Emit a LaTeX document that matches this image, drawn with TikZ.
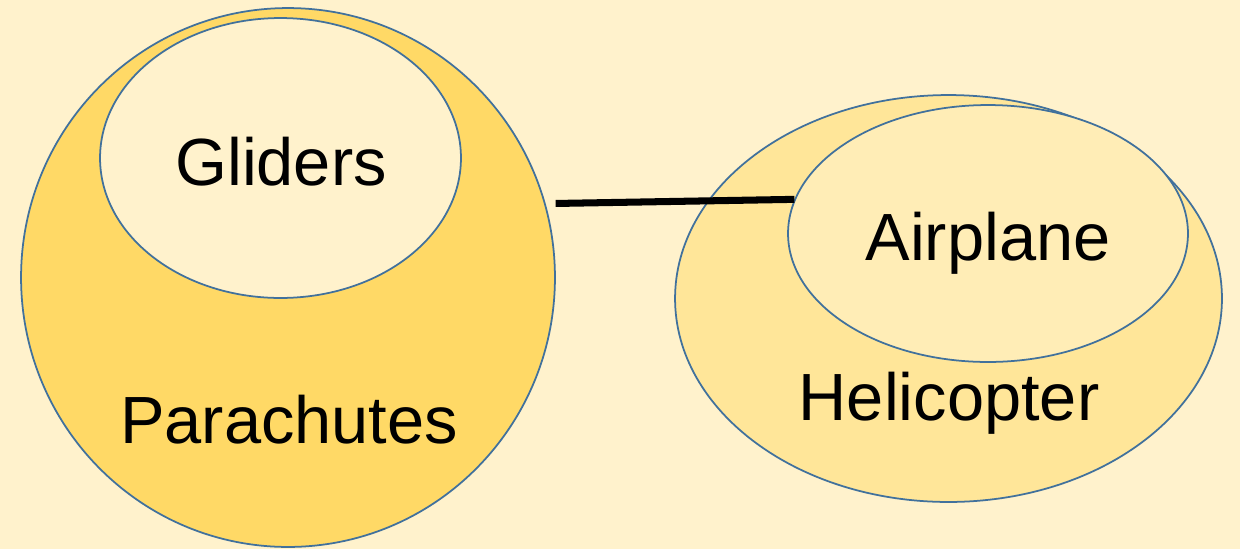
\documentclass[tikz,border=0pt]{standalone}
\usepackage{fontspec}
\setmainfont{Liberation Sans}
\usepackage{tikz}
\usetikzlibrary{shapes.geometric}

\definecolor{bgyellow}{HTML}{FFF2CC}
\definecolor{paradark}{HTML}{FFD966}
\definecolor{helimid}{HTML}{FFE699}
\definecolor{airlight}{HTML}{FFEDB6}
\definecolor{rimblue}{HTML}{41719C}

\tikzset{
  blob/.style={ellipse,draw=rimblue,line width=1pt,inner sep=0pt},
  word/.style={font=\fontsize{38}{44}\selectfont,anchor=base,inner sep=0pt}
}

\begin{document}
\begin{tikzpicture}[x=0.02cm,y=-0.02cm]
\fill[bgyellow] (0,0) rectangle (1240,549);
\useasboundingbox (0,0) rectangle (1240,549);

\node[blob,fill=paradark,minimum width=10.68cm,minimum height=10.78cm](para) at (288,277.5) {};
\node[blob,fill=bgyellow,minimum width=7.22cm,minimum height=5.6cm](glide) at (280.5,158) {};
\node[blob,fill=helimid,minimum width=10.94cm,minimum height=8.14cm](heli) at (948.5,298.5) {};
\node[blob,fill=airlight,minimum width=8cm,minimum height=5.14cm](air) at (988,233.5) {};

\path (para.16) edge [line width=4pt, shorten <=0.2cm] (air.170);

\node[word](glidetext) at (281,185) {Gliders};
\node[word](airtext) at (988,260) {Airplane};
\node[word](paratext) at (289,443) {Parachutes};
\node[word](helitext) at (949,420) {Helicopter};
\end{tikzpicture}
\end{document}
